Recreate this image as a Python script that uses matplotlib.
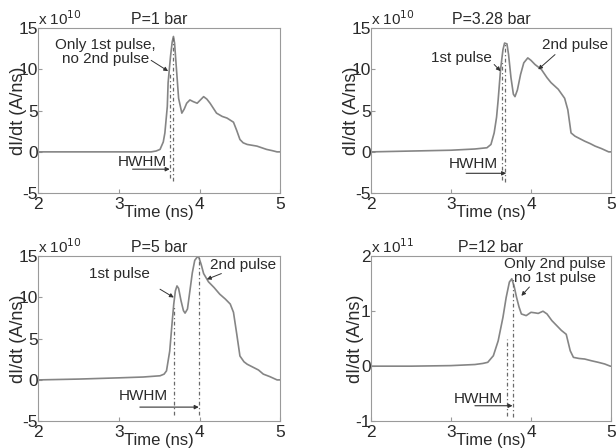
import matplotlib
matplotlib.use("Agg")
import matplotlib.pyplot as plt

plt.rcParams["font.family"] = ["Liberation Sans", "DejaVu Sans"]
plt.rcParams["axes.unicode_minus"] = False

LINE = "#858585"
TXT = "#2a2a2a"
EDGE = "#9a9a9a"

# P=1 bar (x 1e10)
t1 = [2.0, 3.0, 3.40, 3.46, 3.51, 3.55, 3.57, 3.60, 3.61, 3.64, 3.66, 3.676, 3.69, 3.71,
      3.74, 3.78, 3.81, 3.84, 3.88, 3.92, 3.97, 4.01, 4.05, 4.09, 4.13, 4.21, 4.28, 4.34,
      4.42, 4.46, 4.50, 4.54, 4.59, 4.65, 4.71, 4.77, 4.83, 4.90, 4.96, 5.0]
y1 = [0.0, 0.0, 0.0, 0.1, 0.3, 1.2, 2.3, 5.5, 8.4, 11.6, 13.3, 14.0, 13.2, 10.5,
      6.5, 4.7, 5.2, 5.9, 6.3, 6.1, 5.9, 6.3, 6.7, 6.4, 5.9, 4.7, 4.3, 4.1,
      3.6, 2.6, 1.5, 1.1, 0.9, 0.8, 0.7, 0.5, 0.3, 0.15, 0.0, 0.0]

# P=3.28 bar (x 1e10)
t2 = [2.0, 2.5, 3.0, 3.30, 3.45, 3.50, 3.54, 3.57, 3.59, 3.62, 3.65, 3.67, 3.70, 3.72,
      3.75, 3.78, 3.80, 3.83, 3.87, 3.91, 3.96, 4.00, 4.05, 4.13, 4.20, 4.25, 4.34,
      4.42, 4.46, 4.50, 4.55, 4.61, 4.67, 4.74, 4.80, 4.88, 4.97, 5.0]
y2 = [0.0, 0.1, 0.2, 0.35, 0.5, 0.9, 2.3, 4.2, 6.3, 10.0, 12.4, 13.2, 13.1, 11.8,
      9.0, 7.0, 6.7, 7.5, 9.4, 10.8, 11.4, 11.1, 10.6, 10.0, 9.0, 8.4, 7.6,
      6.5, 5.1, 2.3, 1.9, 1.6, 1.3, 1.0, 0.7, 0.4, 0.0, 0.0]

# P=5 bar (x 1e10)
t3 = [2.0, 2.5, 3.0, 3.30, 3.51, 3.56, 3.59, 3.63, 3.66, 3.68, 3.70, 3.72, 3.74, 3.77,
      3.80, 3.82, 3.85, 3.88, 3.91, 3.94, 3.97, 3.99, 4.02, 4.05, 4.11, 4.18, 4.25,
      4.32, 4.38, 4.42, 4.46, 4.50, 4.55, 4.59, 4.67, 4.73, 4.79, 4.87, 4.96, 5.0]
y3 = [0.0, 0.1, 0.25, 0.35, 0.5, 0.7, 1.1, 3.5, 7.0, 9.2, 10.8, 11.4, 11.1, 9.6,
      8.4, 8.1, 8.6, 10.8, 13.0, 14.5, 14.9, 14.9, 14.0, 12.9, 11.9, 11.2, 10.4,
      9.8, 9.2, 8.2, 5.6, 2.9, 2.2, 1.9, 1.5, 1.2, 0.7, 0.4, 0.0, 0.0]

# P=12 bar (x 1e11)
t4 = [2.0, 2.5, 3.0, 3.30, 3.40, 3.46, 3.53, 3.59, 3.65, 3.69, 3.73, 3.76, 3.79, 3.82,
      3.85, 3.88, 3.94, 4.00, 4.05, 4.09, 4.15, 4.20, 4.26, 4.32, 4.38, 4.44, 4.49,
      4.53, 4.60, 4.67, 4.75, 4.84, 4.92, 4.99, 5.0]
y4 = [0.0, 0.0, 0.01, 0.03, 0.05, 0.07, 0.19, 0.46, 0.89, 1.25, 1.53, 1.59, 1.45, 1.25,
      1.08, 0.95, 0.92, 0.98, 0.97, 0.96, 1.0, 0.95, 0.83, 0.74, 0.65, 0.58, 0.28,
      0.16, 0.14, 0.13, 0.10, 0.07, 0.04, 0.0, 0.0]

titles = ["P=1 bar", "P=3.28 bar", "P=5 bar", "P=12 bar"]
exps = ["10", "10", "10", "11"]
ylims = [(-5, 15), (-5, 15), (-5, 15), (-1, 2)]
yticks = [[-5, 0, 5, 10, 15], [-5, 0, 5, 10, 15], [-5, 0, 5, 10, 15], [-1, 0, 1, 2]]
xticks = [2, 3, 4, 5]

# HWHM dashed markers: (x, y_top, y_bottom)
dash_lines = [
    [(3.63, 9.6, -3.2), (3.676, 14.0, -3.5)],
    [(3.64, 11.0, -3.4), (3.68, 13.2, -3.6)],
    [(3.68, 8.8, -4.2), (3.99, 14.9, -4.2)],
    [(3.70, 0.49, -0.9), (3.77, 1.59, -0.93)],
]
hwhm_arrow = [(3.17, 3.63, -2.1), (3.19, 3.69, -2.6), (3.26, 3.99, -3.3), (3.30, 3.77, -0.72)]
hwhm_text = [(3.29, -1.2), (3.28, -1.45), (3.30, -2.0), (3.34, -0.60)]

# annotations: (text, text_xy, arrow_start, arrow_end)
notes = [
    [("Only 1st pulse,\nno 2nd pulse", (2.83, 12.1), (3.40, 11.1), (3.61, 9.8))],
    [("1st pulse", (3.13, 11.4), (3.54, 10.6), (3.62, 9.8)),
     ("2nd pulse", (4.55, 13.0), (4.30, 11.8), (4.09, 10.0))],
    [("1st pulse", (3.01, 12.9), (3.51, 11.0), (3.68, 10.0)),
     ("2nd pulse", (4.54, 13.9), (4.27, 12.9), (4.09, 12.2))],
    [("Only 2nd pulse\nno 1st pulse", (4.30, 1.74), (3.98, 1.44), (3.88, 1.28))],
]

series = [(t1, y1), (t2, y2), (t3, y3), (t4, y4)]
positions = [
    [0.062, 0.569, 0.393, 0.368],
    [0.602, 0.569, 0.390, 0.368],
    [0.062, 0.060, 0.393, 0.368],
    [0.602, 0.060, 0.390, 0.368],
]

fig = plt.figure(figsize=(6.16, 4.48), dpi=100)
for i in range(4):
    ax = fig.add_axes(positions[i])
    t, y = series[i]
    ax.plot(t, y, color=LINE, lw=1.2)
    ax.set_xlim(2, 5)
    ax.set_ylim(*ylims[i])
    ax.set_xticks(xticks)
    ax.set_yticks(yticks[i])
    ax.tick_params(direction="in", length=3, color=EDGE, labelsize=12.5, labelcolor=TXT)
    ax.tick_params(axis="y", pad=0)
    ax.tick_params(axis="x", pad=3)
    for s in ax.spines.values():
        s.set_color(EDGE)
        s.set_linewidth(0.8)
    ax.set_xlabel("Time (ns)", fontsize=12, color=TXT, labelpad=-5)
    ax.set_ylabel("dI/dt (A/ns)", fontsize=13, color=TXT, labelpad=-6)
    ax.set_title(titles[i], fontsize=11.5, color=TXT, pad=3)
    ax.text(0.0, 1.0, r"x 10$^{%s}$" % exps[i], transform=ax.transAxes,
            fontsize=11, color=TXT, ha="left", va="bottom")

    for (xd, ytop, ybot) in dash_lines[i]:
        ax.plot([xd, xd], [ybot, ytop], color="#6a6a6a", lw=0.9, ls=(0, (3, 2, 1, 2)))

    x0, x1, ya = hwhm_arrow[i]
    ax.annotate("", xy=(x1, ya), xytext=(x0, ya),
                arrowprops=dict(arrowstyle="-|>", color="#333333", lw=0.8,
                                mutation_scale=6, shrinkA=0, shrinkB=0))
    ax.text(hwhm_text[i][0], hwhm_text[i][1], "HWHM", fontsize=11, color=TXT,
            ha="center", va="center")

    for (txt, txy, a0, a1) in notes[i]:
        ax.text(txy[0], txy[1], txt, fontsize=11, color=TXT, ha="center", va="center",
                linespacing=1.0)
        ax.annotate("", xy=a1, xytext=a0,
                    arrowprops=dict(arrowstyle="-|>", color="#333333", lw=0.7,
                                    mutation_scale=6, shrinkA=0, shrinkB=0))

fig.savefig("out.png", dpi=100)
